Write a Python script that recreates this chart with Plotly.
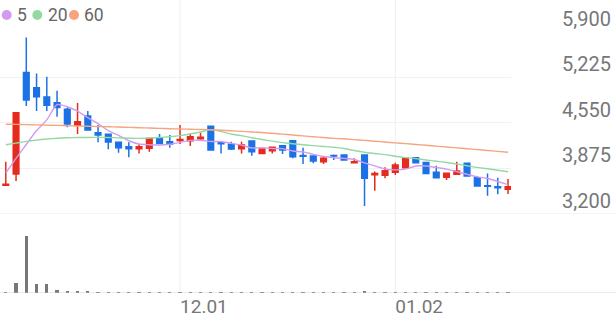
import plotly.graph_objects as go

dates = [
    "2022-11-08", "2022-11-09", "2022-11-10", "2022-11-11", "2022-11-14", "2022-11-15",
    "2022-11-16", "2022-11-17", "2022-11-18", "2022-11-21", "2022-11-22", "2022-11-23",
    "2022-11-24", "2022-11-25", "2022-11-28", "2022-11-29", "2022-11-30",
    "2022-12-01", "2022-12-02", "2022-12-05", "2022-12-06", "2022-12-07", "2022-12-08",
    "2022-12-09", "2022-12-12", "2022-12-13", "2022-12-14", "2022-12-15", "2022-12-16",
    "2022-12-19", "2022-12-20", "2022-12-21", "2022-12-22", "2022-12-23", "2022-12-26",
    "2022-12-27", "2022-12-28", "2022-12-29",
    "2023-01-02", "2023-01-03", "2023-01-04", "2023-01-05", "2023-01-06", "2023-01-09",
    "2023-01-10", "2023-01-11", "2023-01-12", "2023-01-13", "2023-01-16", "2023-01-17",
]

opens = [3625, 3792, 5297, 5069, 4932, 4847, 4750, 4513, 4650, 4403,
         4380, 4261, 4196, 4166, 4172, 4320, 4271, 4290, 4285, 4315,
         4498, 4255, 4232, 4166, 4280, 4097, 4137, 4211, 4285, 4065,
         4058, 3974, 4068, 4073, 3960, 4073, 3780, 3773, 3817, 3886,
         4033, 3964, 3817, 3743, 3787, 3950, 3737, 3620, 3604, 3565]
highs = [3975, 4705, 5815, 5282, 5232, 5025, 4779, 4843, 4724, 4517,
         4394, 4265, 4261, 4232, 4325, 4384, 4369, 4517, 4394, 4403,
         4505, 4260, 4271, 4271, 4285, 4165, 4196, 4215, 4290, 4181,
         4062, 4048, 4083, 4080, 4024, 4075, 3829, 3891, 3959, 4026,
         4035, 3966, 3915, 3805, 3974, 3952, 3760, 3800, 3737, 3720]
lows = [3615, 3688, 4798, 4724, 4724, 4640, 4483, 4384, 4440, 4261,
        4158, 4107, 4039, 4097, 4122, 4240, 4181, 4236, 4206, 4285,
        4140, 4097, 4147, 4097, 4063, 4095, 4097, 4088, 4024, 3940,
        3950, 3940, 3999, 3995, 3955, 3318, 3545, 3728, 3777, 3884,
        3957, 3799, 3730, 3703, 3777, 3755, 3610, 3471, 3491, 3496]
closes = [3640, 4699, 4887, 4936, 4809, 4779, 4532, 4566, 4443, 4369,
          4266, 4181, 4166, 4196, 4320, 4246, 4236, 4305, 4344, 4335,
          4147, 4240, 4162, 4221, 4122, 4162, 4187, 4147, 4048, 4055,
          3984, 4024, 4058, 3999, 3975, 3728, 3800, 3841, 3925, 4024,
          3959, 3801, 3737, 3802, 3836, 3762, 3614, 3610, 3589, 3604]
volumes = [70, 1040, 5700, 870, 870, 270, 160, 160, 150, 100,
           80, 70, 80, 70, 80, 70, 70, 80, 70, 70,
           80, 70, 70, 70, 80, 70, 70, 70, 80, 70,
           70, 70, 70, 70, 70, 220, 80, 70, 70, 80,
           70, 70, 70, 70, 70, 70, 70, 70, 60, 60]

ma5 = [3807, 4025, 4229, 4436, 4594, 4822, 4789, 4724, 4626, 4538,
       4435, 4365, 4285, 4236, 4226, 4222, 4233, 4261, 4290, 4293,
       4273, 4274, 4246, 4221, 4178, 4181, 4171, 4168, 4133, 4120,
       4084, 4052, 4034, 4024, 4008, 3957, 3912, 3869, 3854, 3864,
       3910, 3910, 3889, 3865, 3827, 3788, 3750, 3725, 3682, 3636]
ma20 = [4225, 4250, 4275, 4295, 4310, 4322, 4329, 4332, 4334, 4335,
        4333, 4328, 4322, 4320, 4325, 4333, 4344, 4360, 4385, 4415,
        4450, 4420, 4385, 4360, 4330, 4303, 4280, 4258, 4240, 4225,
        4212, 4200, 4188, 4170, 4140, 4115, 4097, 4080, 4055, 4035,
        4020, 4000, 3982, 3962, 3940, 3915, 3890, 3870, 3848, 3826]
ma60 = [4530, 4527, 4524, 4520, 4516, 4512, 4508, 4504, 4500, 4496,
        4492, 4488, 4483, 4478, 4473, 4468, 4463, 4458, 4455, 4452,
        4448, 4440, 4432, 4424, 4415, 4406, 4395, 4383, 4370, 4357,
        4344, 4332, 4320, 4314, 4302, 4290, 4278, 4266, 4254, 4242,
        4230, 4218, 4205, 4192, 4180, 4167, 4154, 4141, 4128, 4115]

ma_names = ["5", "20", "60"]
ma_colors = ["#d39bf0", "#93d9a2", "#f6a47f"]

x_tick_vals = ["2022-12-01", "2023-01-02"]
x_tick_text = ["12.01", "01.02"]
y_tick_vals = [3200, 3875, 4550, 5225, 5900]
y_tick_text = ["3,200", "3,875", "4,550", "5,225", "5,900"]

W, H = 616, 321
RED = "#e62b1c"
BLUE = "#1a72e6"
LABEL = "#777777"

fig = go.Figure()

fig.add_trace(go.Candlestick(
    x=dates, open=opens, high=highs, low=lows, close=closes,
    increasing=dict(line=dict(color=RED, width=1.5), fillcolor=RED),
    decreasing=dict(line=dict(color=BLUE, width=1.5), fillcolor=BLUE),
    whiskerwidth=0, showlegend=False, xaxis="x", yaxis="y",
))

for name, vals, col in zip(ma_names, [ma5, ma20, ma60], ma_colors):
    fig.add_trace(go.Scatter(
        x=dates, y=vals, mode="lines", name=name,
        line=dict(color=col, width=1.4, shape="spline", smoothing=0.6),
        showlegend=False, xaxis="x", yaxis="y",
    ))

fig.add_trace(go.Bar(
    x=dates, y=volumes, marker=dict(color="#777777", line=dict(width=0)),
    width=0.33, showlegend=False, xaxis="x", yaxis="y2",
))

x_right = 511 / W
fig.update_layout(
    template="none",
    width=W, height=H, autosize=False,
    margin=dict(l=0, r=0, t=0, b=0, pad=0),
    paper_bgcolor="white", plot_bgcolor="white",
    boxgap=0.45, boxgroupgap=0,
    bargap=0,
    xaxis=dict(
        type="category", domain=[0, x_right], range=[-0.566, 49.29],
        anchor="y2", automargin=False, showgrid=False, zeroline=False, showline=False,
        ticks="", tickvals=x_tick_vals, ticktext=x_tick_text,
        ticklabelposition="outside right",
        tickfont=dict(family="Roboto", size=19, color=LABEL),
        rangeslider=dict(visible=False), fixedrange=True,
    ),
    yaxis=dict(
        domain=[1 - 214 / H, 1 - 31.7 / H], range=[3200, 5900],
        side="right", anchor="x", automargin=False,
        showgrid=True, gridcolor="#f1f1f1", gridwidth=1,
        zeroline=False, showline=False, ticks="",
        tickvals=y_tick_vals, ticktext=y_tick_text,
        ticklabelstandoff=50, ticklabelshift=-13,
        tickfont=dict(family="Roboto", size=20, color=LABEL),
    ),
    yaxis2=dict(
        domain=[1 - 292.7 / H, 1 - 232.7 / H], range=[0, 6000],
        anchor="x", automargin=False, showgrid=False, zeroline=False, showline=False,
        showticklabels=False, ticks="",
    ),
)

shapes = []
for tv in x_tick_vals:
    shapes.append(dict(type="line", xref="x", yref="paper", x0=tv, x1=tv,
                       y0=1 - 293 / H, y1=1, line=dict(color="#efefef", width=1),
                       layer="below"))
shapes.append(dict(type="line", xref="paper", yref="y", x0=0, x1=1, y0=3200, y1=3200,
                   line=dict(color="#e8e8e8", width=1), layer="below"))
shapes.append(dict(type="line", xref="paper", yref="y2", x0=0, x1=1, y0=0, y1=0,
                   line=dict(color="#dddddd", width=1), layer="below"))

# legend dots
dot_cx = [6.7, 37.3, 74.0]
for cx, col in zip(dot_cx, ma_colors):
    shapes.append(dict(type="circle", xref="paper", yref="paper",
                       x0=(cx - 5) / W, x1=(cx + 5) / W,
                       y0=1 - 20 / H, y1=1 - 10 / H,
                       fillcolor=col, line=dict(width=0)))
fig.update_layout(shapes=shapes)

text_x = [15, 45.5, 82]
for tx, name in zip(text_x, ma_names):
    fig.add_annotation(x=tx / W, y=1 - 15.5 / H, xref="paper", yref="paper",
                       xanchor="left", yanchor="middle", showarrow=False,
                       text=name, font=dict(family="Roboto", size=17.5, color="#666666"))

fig.write_html("out.html")
